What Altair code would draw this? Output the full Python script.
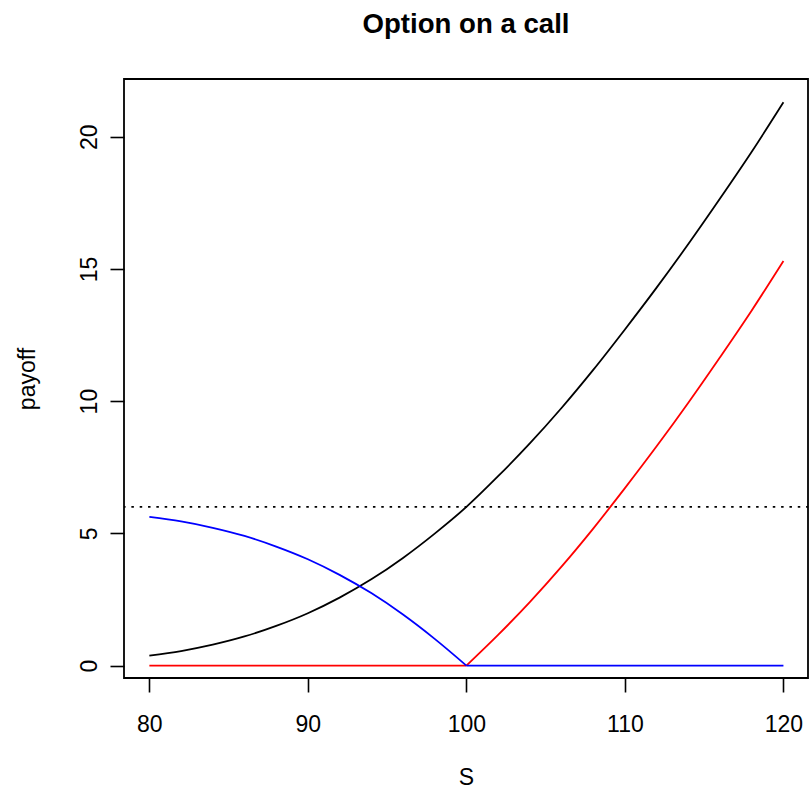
import altair as alt
import pandas as pd

# Underlying price grid
S = [80, 82, 84, 86, 88, 90, 92, 94, 96, 98, 100,
     102, 104, 106, 108, 110, 112, 114, 116, 118, 120]

# Value of the underlying call option
call_value = [0.38, 0.55, 0.79, 1.10, 1.50, 1.98, 2.57, 3.26, 4.07, 4.99, 6.00,
              7.16, 8.40, 9.74, 11.18, 12.71, 14.29, 15.94, 17.66, 19.43, 21.30]

# Payoff of a call on the call (strike 6)
call_on_call = [0, 0, 0, 0, 0, 0, 0, 0, 0, 0, 0,
                1.16, 2.40, 3.74, 5.18, 6.71, 8.29, 9.94, 11.66, 13.43, 15.30]

# Payoff of a put on the call (strike 6)
put_on_call = [5.62, 5.45, 5.21, 4.90, 4.50, 4.02, 3.43, 2.74, 1.93, 1.01, 0,
               0, 0, 0, 0, 0, 0, 0, 0, 0, 0]

strike = [6]
kink = 100  # underlying price where the call is worth the compound strike

FONT = "Liberation Sans"

rows = []
for name, vals in [("call", call_value), ("call on call", call_on_call),
                   ("put on call", put_on_call)]:
    for s, v in zip(S, vals):
        rows.append({"S": s, "payoff": v, "series": name})
df = pd.DataFrame(rows)

x_scale = alt.Scale(domain=[78.4, 121.55], nice=False, zero=False)
y_scale = alt.Scale(domain=[-0.47, 22.18], nice=False, zero=False)

x_axis = alt.Axis(
    values=[80, 90, 100, 110, 120], domain=False, grid=False,
    tickSize=14, tickWidth=1.6, tickColor="black",
    labelFont=FONT, labelFontSize=23, labelColor="black",
    labelPadding=39, labelBaseline="alphabetic", labelFlush=False,
    labelOverlap=False,
    title="S", titleFont=FONT, titleFontSize=23, titleFontWeight="normal",
    titleColor="black", titleBaseline="alphabetic", titleY=106.5,
)
y_axis = alt.Axis(
    values=[0, 5, 10, 15, 20], domain=False, grid=False,
    tickSize=14, tickWidth=1.6, tickColor="black",
    labelFont=FONT, labelFontSize=23, labelColor="black",
    labelAngle=270, labelAlign="center", labelBaseline="alphabetic",
    labelPadding=13.6, labelFlush=False, labelOverlap=False,
    title="payoff", titleFont=FONT, titleFontSize=23, titleFontWeight="normal",
    titleColor="black", titleAngle=270, titleAlign="center",
    titleBaseline="alphabetic", titleX=-90, titleY=299.5,
)

base = alt.Chart(df)


def curve(name, color, lo, hi):
    # one piece of a payoff line, smoothed between the grid points
    return base.transform_filter(
        (alt.datum.series == name) & (alt.datum.S >= lo) & (alt.datum.S <= hi)
    ).mark_line(
        color=color, strokeWidth=1.8, interpolate="monotone"
    ).encode(
        x=alt.X("S:Q", scale=x_scale, axis=x_axis),
        y=alt.Y("payoff:Q", scale=y_scale, axis=y_axis),
        order="S:Q",
    )


level = alt.Chart(pd.DataFrame({"payoff": strike})).mark_rule(
    color="black", strokeWidth=1.8, strokeDash=[2.5, 5.83], strokeDashOffset=0.6
).encode(y=alt.Y("payoff:Q", scale=y_scale, axis=y_axis))

chart = alt.layer(
    level,
    curve("call", "#000000", 80, 120),
    curve("call on call", "#FF0000", 80, kink),
    curve("call on call", "#FF0000", kink, 120),
    curve("put on call", "#0000FF", 80, kink),
    curve("put on call", "#0000FF", kink, 120),
).properties(
    width=684,
    height=599,
    title=alt.TitleParams(
        "Option on a call", font=FONT, fontSize=27.6, fontWeight="bold",
        color="black", anchor="middle", baseline="alphabetic", offset=18,
    ),
    autosize=alt.AutoSizeParams(type="none"),
    padding={"left": 124, "top": 79, "right": 1, "bottom": 114},
    background="white",
).configure_view(
    stroke="black", strokeWidth=1.8, fill="white"
)

chart.save("out.html", embed_options={"renderer": "svg", "actions": False})
